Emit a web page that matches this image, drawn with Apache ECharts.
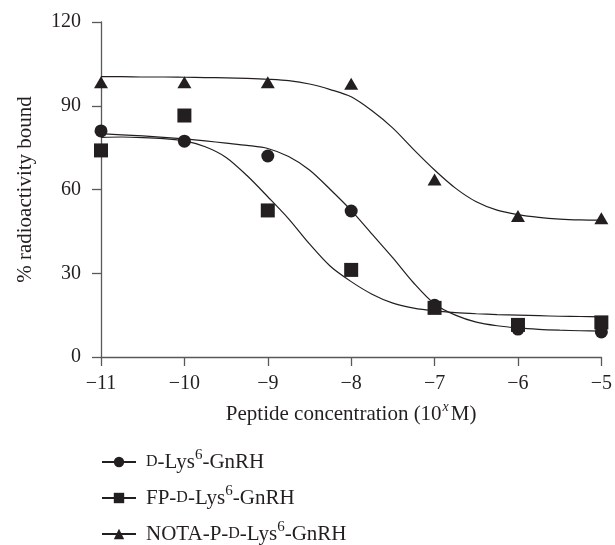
<!DOCTYPE html>
<html>
<head>
<meta charset="utf-8">
<script src="https://cdn.jsdelivr.net/npm/echarts@6/dist/echarts.min.js"></script>
<style>
  html, body { margin: 0; padding: 0; background: #fff; }
  #chart { width: 615px; height: 545px; }
</style>
</head>
<body>
<div id="chart"></div>
<script>
// measured points, log10 concentration on x
const concentrations = [-11, -10, -9, -8, -7, -6, -5]
const dLysPoints = [81, 77.3, 72, 52.3, 18.5, 10, 9]
const fpPoints = [74, 86.5, 52.5, 31.2, 17.6, 11.5, 12.4]
const notaPoints = [98.4, 98.4, 98.4, 97.9, 63.6, 50.5, 49.7]

// fitted curves every 0.25 log unit
const curveX = [-11, -10.75, -10.5, -10.25, -10, -9.75, -9.5, -9.25, -9, -8.75, -8.5, -8.25, -8,
  -7.75, -7.5, -7.25, -7, -6.75, -6.5, -6.25, -6, -5.75, -5.5, -5.25, -5]
const dLysCurve = [80, 79.6, 79.2, 78.7, 78.1, 77.4, 76.6, 75.8, 74.7, 71.8, 67, 60, 52.5,
  44, 35.5, 26.5, 19, 15, 12.5, 11.2, 10.4, 9.9, 9.6, 9.4, 9.3]
const fpCurve = [78.7, 78.8, 78.6, 78.2, 77.4, 75.3, 71.5, 65, 57.4, 49.5, 40.5, 32.5, 27,
  22.5, 19.3, 17.5, 16.5, 15.9, 15.5, 15.2, 15, 14.8, 14.6, 14.5, 14.4]
const notaCurve = [100.4, 100.4, 100.3, 100.3, 100.2, 100.1, 100, 99.8, 99.5, 99, 97.8, 95.8, 93.2,
  88.2, 82, 74.3, 67, 60.5, 55.6, 52.6, 51, 50, 49.4, 49.1, 49]

const yTicks = [0, 30, 60, 90, 120]

const ink = '#231f20'
const axisGrey = '#58595b'
const serif = '"Liberation Serif", "DejaVu Serif", serif'

const names = ['dlys', 'fp', 'nota']
const labels = {
  dlys: '{sc|D}-Lys{sup|6}-GnRH',
  fp: 'FP-{sc|D}-Lys{sup|6}-GnRH',
  nota: 'NOTA-P-{sc|D}-Lys{sup|6}-GnRH'
}
const symbols = { dlys: 'circle', fp: 'rect', nota: 'triangle' }
const symbolSizes = { dlys: 13, fp: 14, nota: [14, 12] }
const points = { dlys: dLysPoints, fp: fpPoints, nota: notaPoints }
const curves = { dlys: dLysCurve, fp: fpCurve, nota: notaCurve }

const pair = (xs, ys) => xs.map((x, i) => [x, ys[i]])
const minus = v => String(v).replace('-', '\u2212')

const series = []
names.forEach(n => {
  series.push({
    name: n,
    type: 'line',
    data: pair(curveX, curves[n]),
    smooth: 0.3,
    showSymbol: false,
    symbol: symbols[n],
    symbolSize: 13,
    lineStyle: { color: ink, width: 1.2 },
    itemStyle: { color: ink },
    silent: true,
    z: 2
  })
})
names.forEach(n => {
  series.push({
    name: n,
    type: 'scatter',
    data: pair(concentrations, points[n]),
    symbol: symbols[n],
    symbolSize: symbolSizes[n],
    itemStyle: { color: ink, opacity: 1 },
    z: 3
  })
})

const chart = echarts.init(document.getElementById('chart'))
chart.setOption({
  animation: false,
  textStyle: { fontFamily: serif, color: ink },
  grid: { left: 101, right: 12, top: 22, bottom: 188 },
  xAxis: {
    type: 'value',
    min: -11, max: -5, interval: 1,
    name: 'Peptide concentration (10{supi|x}M)',
    nameLocation: 'middle',
    nameGap: 43,
    nameTextStyle: {
      fontFamily: serif, fontSize: 21, color: ink, lineHeight: 28,
      rich: {
        supi: { fontFamily: serif, fontSize: 14, lineHeight: 14, fontStyle: 'italic', verticalAlign: 'top', color: ink, padding: [0, 2, 0, 1] }
      }
    },
    axisLine: { lineStyle: { color: axisGrey, width: 1.3 } },
    axisTick: { inside: false, length: 9, lineStyle: { color: axisGrey, width: 1.3 } },
    axisLabel: { formatter: minus, fontSize: 20, color: ink, margin: 17, fontFamily: serif },
    splitLine: { show: false }
  },
  yAxis: {
    type: 'value',
    min: yTicks[0], max: yTicks[yTicks.length - 1], interval: 30,
    name: '% radioactivity bound',
    nameLocation: 'middle',
    nameGap: 65,
    nameTextStyle: { fontFamily: serif, fontSize: 21, color: ink },
    axisLine: { show: true, lineStyle: { color: axisGrey, width: 1.3 } },
    axisTick: { show: true, inside: false, length: 9, lineStyle: { color: axisGrey, width: 1.3 } },
    axisLabel: { fontSize: 20, color: ink, margin: 20, fontFamily: serif },
    splitLine: { show: false }
  },
  legend: {
    orient: 'vertical',
    left: 101,
    top: 448,
    height: 140,
    padding: 0,
    itemWidth: 34,
    itemHeight: 13,
    itemGap: 8,
    data: names,
    formatter: n => labels[n],
    textStyle: {
      fontFamily: serif, fontSize: 21, color: ink, lineHeight: 28, padding: [0, 0, 0, 5],
      rich: {
        sc: { fontFamily: serif, fontSize: 16, color: ink },
        sup: { fontFamily: serif, fontSize: 15, lineHeight: 15, color: ink, verticalAlign: 'top' }
      }
    },
    selectedMode: false
  },
  series: series
})
</script>
</body>
</html>
